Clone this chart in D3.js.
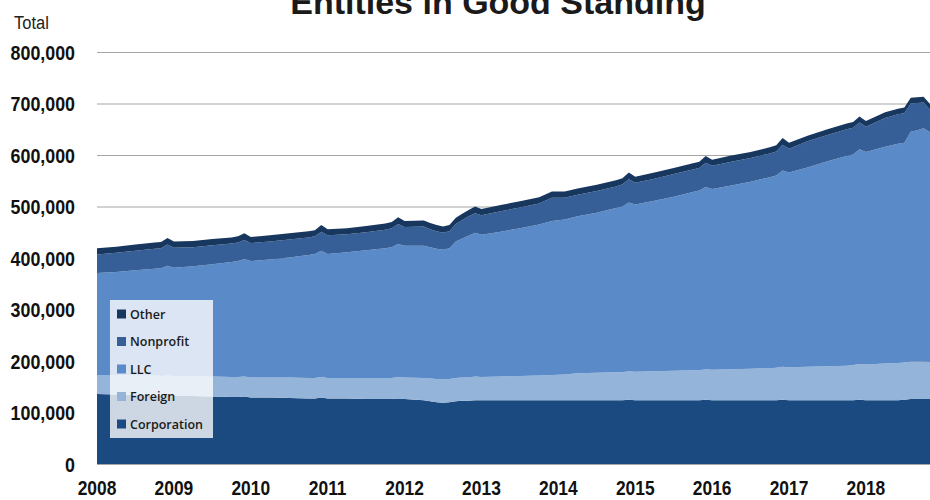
<!DOCTYPE html>
<html>
<head>
<meta charset="utf-8">
<script src="https://cdn.jsdelivr.net/npm/d3@7"></script>
<style>
    html, body { margin: 0; padding: 0; background: #fff; }
    svg { display: block; }
</style>
</head>
<body>
<div id="chart"></div>
<script>
// months of the series (YYYY-MM), values below are in thousands of entities
const months = [
    "2008-01", "2008-04", "2008-07", "2008-10", "2008-11", "2008-12",
    "2009-01", "2009-04", "2009-07", "2009-10", "2009-11", "2009-12",
    "2010-01", "2010-04", "2010-07", "2010-10", "2010-11", "2010-12",
    "2011-01", "2011-04", "2011-07", "2011-10", "2011-11", "2011-12",
    "2012-01", "2012-04", "2012-05", "2012-06", "2012-07", "2012-08",
    "2012-09", "2012-10", "2012-11", "2012-12",
    "2013-01", "2013-04", "2013-07", "2013-10", "2013-12",
    "2014-02", "2014-04", "2014-07", "2014-10", "2014-11", "2014-12",
    "2015-01", "2015-04", "2015-07", "2015-10", "2015-11", "2015-12",
    "2016-01", "2016-04", "2016-07", "2016-10", "2016-11", "2016-12",
    "2017-01", "2017-04", "2017-07", "2017-10", "2017-11", "2017-12",
    "2018-01", "2018-04", "2018-06", "2018-07", "2018-08", "2018-09",
    "2018-10", "2018-11"
];

const corporation = [
    136, 135, 134, 133, 133, 134,
    132, 132, 131, 130, 130, 131,
    129, 129, 128, 127, 127, 129,
    127, 127, 126, 126, 126, 127,
    126, 124, 122, 120, 119, 120,
    122, 123, 123, 124,
    124, 124, 124, 124, 124,
    124, 124, 124, 124, 124, 125,
    124, 124, 124, 124, 124, 125,
    124, 124, 124, 124, 124, 125,
    124, 124, 124, 124, 124, 125,
    124, 124, 124, 125, 126, 126,
    126, 126
];

const foreign = [
    37, 38, 38, 39, 38, 38,
    39, 38, 39, 39, 39, 39,
    39, 39, 40, 40, 40, 40,
    40, 40, 41, 41, 41, 42,
    42, 43, 44, 45, 45, 45,
    45, 45, 45, 46,
    45, 46, 47, 48, 49,
    50, 52, 53, 54, 54, 55,
    55, 56, 57, 58, 58, 59,
    59, 60, 61, 62, 63, 64,
    64, 65, 66, 67, 68, 69,
    69, 71, 72, 72, 73, 73,
    73, 72
];

const llc = [
    198, 200, 204, 207, 209, 213,
    210, 214, 218, 223, 225, 228,
    226, 229, 233, 239, 241, 245,
    241, 244, 248, 252, 254, 258,
    256, 257, 255, 253, 252, 254,
    265, 270, 275, 279,
    276, 281, 287, 293, 299,
    301, 305, 311, 319, 322, 328,
    325, 331, 338, 346, 349, 354,
    351, 357, 363, 371, 373, 381,
    378, 387, 398, 407, 409, 417,
    413, 421, 426, 427, 446, 449,
    453, 446
];

const nonprofit = [
    36, 37, 38, 39, 39, 41,
    39, 37, 37, 36, 36, 37,
    35, 35, 35, 34, 34, 37,
    36, 35, 35, 36, 37, 39,
    36, 37, 35, 34, 33, 33,
    34, 36, 38, 38,
    38, 40, 40, 41, 45,
    42, 42, 42, 42, 43, 45,
    42, 43, 44, 44, 44, 47,
    45, 46, 46, 46, 47, 50,
    46, 51, 51, 52, 52, 52,
    49, 56, 57, 57, 55, 53,
    50, 44
];

const other = [
    12, 12, 12, 12, 12, 13,
    12, 12, 12, 12, 12, 13,
    12, 12, 12, 12, 12, 13,
    12, 12, 12, 12, 12, 13,
    12, 12, 12, 12, 12, 12,
    12, 12, 12, 13,
    12, 12, 12, 12, 12,
    12, 12, 12, 12, 12, 13,
    12, 12, 12, 12, 12, 13,
    12, 12, 12, 12, 12, 13,
    12, 11, 11, 11, 11, 12,
    11, 11, 11, 11, 11, 11,
    11, 11
];

const seriesNames = ["Corporation", "Foreign", "LLC", "Nonprofit", "Other"];
const seriesColors = ["#1a4a80", "#95b4da", "#5a8bc8", "#355f96", "#17375f"];
const yearTicks = [2008, 2009, 2010, 2011, 2012, 2013, 2014, 2015, 2016, 2017, 2018];
const valueTicks = [0, 100, 200, 300, 400, 500, 600, 700, 800];

const narrow = 0.87; // the original uses a condensed face, squeeze Liberation Sans
const labelFont = "'Liberation Sans', Arial, sans-serif";

class StackedAreaChart
{
    constructor(selector)
    {
        this.width = 930;
        this.height = 500;
        this.frame = { left: 97, right: 930, top: 52, bottom: 464 };
        this.svg = d3.select(selector).append("svg")
            .attr("width", this.width)
            .attr("height", this.height);
        this.initData();
        this.initScales();
        this.drawGrid();
        this.drawSeries();
        this.drawAxes();
        this.drawLegend();
        this.drawTitle();
    }

    initData()
    {
        const cols = [corporation, foreign, llc, nonprofit, other];
        this.rows = months.map((m, i) => {
            const [y, mo] = m.split("-").map(Number);
            const row = { t: y + (mo - 1) / 12 };
            seriesNames.forEach((name, k) => row[name] = cols[k][i]);
            return row;
        });
        this.stacked = d3.stack().keys(seriesNames)(this.rows);
    }

    initScales()
    {
        const f = this.frame;
        this.x = d3.scaleLinear()
            .domain([2008, d3.max(this.rows, d => d.t)])
            .range([f.left, f.right]);
        this.y = d3.scaleLinear()
            .domain([0, 800])
            .range([f.bottom, f.top]);
    }

    drawGrid()
    {
        const f = this.frame;
        this.svg.append("g").classed("grid", true)
            .selectAll("line")
            .data(valueTicks)
            .join("line")
            .attr("x1", f.left)
            .attr("x2", f.right)
            .attr("y1", d => this.y(d) + 0.5)
            .attr("y2", d => this.y(d) + 0.5)
            .attr("stroke", "#a6a6a6")
            .attr("stroke-width", 1.2);
    }

    drawSeries()
    {
        const area = d3.area()
            .x(d => this.x(d.data.t))
            .y0(d => this.y(d[0]))
            .y1(d => this.y(d[1]))
            .curve(d3.curveLinear);

        this.svg.append("g").classed("series-layer", true)
            .selectAll("path")
            .data(this.stacked)
            .join("path")
            .attr("d", area)
            .attr("fill", (d, i) => seriesColors[i]);
    }

    drawAxes()
    {
        const fmt = d3.format(",");

        this.svg.append("g").classed("y-labels", true)
            .selectAll("text")
            .data(valueTicks)
            .join("text")
            .attr("transform", d => `translate(75, ${this.y(d) + 7.5}) scale(${narrow}, 1)`)
            .attr("text-anchor", "end")
            .attr("font-family", labelFont)
            .attr("font-weight", "bold")
            .attr("font-size", 20.5)
            .attr("fill", "#111")
            .text(d => fmt(d * 1000));

        this.svg.append("g").classed("x-labels", true)
            .selectAll("text")
            .data(yearTicks)
            .join("text")
            .attr("transform", d => `translate(${this.x(d)}, 495) scale(${narrow}, 1)`)
            .attr("text-anchor", "middle")
            .attr("font-family", labelFont)
            .attr("font-weight", "bold")
            .attr("font-size", 20)
            .attr("fill", "#111")
            .text(d => d);

        this.svg.append("text")
            .attr("transform", `translate(14, 29) scale(${narrow}, 1)`)
            .attr("font-family", labelFont)
            .attr("font-size", 19)
            .attr("fill", "#222")
            .text("Total");
    }

    drawLegend()
    {
        const legend = this.svg.append("g").classed("legend", true)
            .attr("transform", "translate(110, 300)");

        legend.append("rect")
            .attr("width", 103)
            .attr("height", 138)
            .attr("fill", "#ffffff")
            .attr("fill-opacity", 0.78);

        // legend lists series top to bottom in reverse stack order
        const items = seriesNames.map((name, i) => ({ name, color: seriesColors[i] })).reverse();
        const row = legend.selectAll("g.item")
            .data(items)
            .join("g")
            .classed("item", true)
            .attr("transform", (d, i) => `translate(0, ${14 + i * 27.5})`);

        row.append("rect")
            .attr("x", 7)
            .attr("y", -4.5)
            .attr("width", 9)
            .attr("height", 9)
            .attr("fill", d => d.color);

        row.append("text")
            .attr("x", 20)
            .attr("y", 4.5)
            .attr("font-family", "'Open Sans', 'Noto Sans', sans-serif")
            .attr("font-size", 12.5)
            .attr("font-weight", 600)
            .attr("fill", "#1a1a1a")
            .text(d => d.name);
    }

    drawTitle()
    {
        this.svg.append("text")
            .attr("x", 498)
            .attr("y", 14)
            .attr("text-anchor", "middle")
            .attr("font-family", "'Liberation Sans', Arial, sans-serif")
            .attr("font-weight", "bold")
            .attr("font-size", 34)
            .attr("fill", "#1a1a1a")
            .text("Entities in Good Standing");
    }
}

new StackedAreaChart("#chart");
</script>
</body>
</html>
